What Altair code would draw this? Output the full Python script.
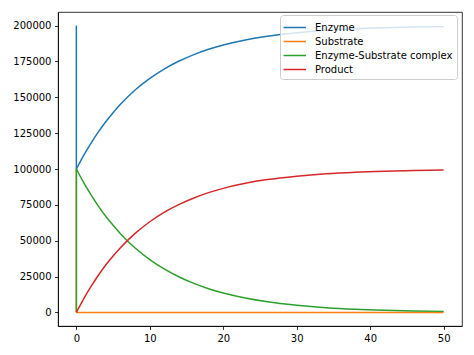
import altair as alt
import pandas as pd

series_names = ["Enzyme", "Substrate", "Enzyme-Substrate complex", "Product"]
series_colors = ["#1f77b4", "#ff7f0e", "#2ca02c", "#d62728"]

# time points of the smooth part (after the instantaneous binding at t=0)
times = [0, 1, 2, 3, 4, 5, 6, 8, 10, 12, 14, 16, 18, 20, 23, 26, 30, 34, 38, 42, 46, 50]
enzyme = [100000, 109500, 118100, 125900, 133000, 139300, 145100, 155100, 163200, 169900,
          175300, 179800, 183500, 186500, 190000, 192600, 195000, 196700, 197800, 198500,
          199000, 199300]
substrate = [0] * len(times)
complex_es = [100000, 90500, 81900, 74100, 67000, 60700, 54900, 44900, 36800, 30100,
              24700, 20200, 16500, 13500, 10000, 7400, 5000, 3300, 2200, 1500, 1000, 700]
product = [0, 9500, 18100, 25900, 33000, 39300, 45100, 55100, 63200, 69900, 75300,
           79800, 83500, 86500, 90000, 92600, 95000, 96700, 97800, 98500, 99000, 99300]

# initial values at t=0 (before the instant jump)
initial = [200000, 100000, 0, 0]

curves = [enzyme, substrate, complex_es, product]

rows = []
for name, vals, init in zip(series_names, curves, initial):
    for t, v in zip(times, vals):
        rows.append({"series": name, "t": t, "v": v, "part": "curve", "o": t + 1})
    rows.append({"series": name, "t": 0, "v": init, "part": "jump", "o": 0})
    rows.append({"series": name, "t": 0, "v": vals[0], "part": "jump", "o": 1})
df = pd.DataFrame(rows)

color = alt.Color(
    "series:N",
    scale=alt.Scale(domain=series_names, range=series_colors),
    legend=alt.Legend(
        title=None,
        orient="none",
        legendX=222,
        legendY=3,
        symbolType="M-1.2,0H1.8",
        symbolSize=225,
        symbolStrokeWidth=1.5,
        labelFont="DejaVu Sans",
        labelFontSize=10,
        labelColor="#000000",
        labelOffset=14,
        rowPadding=0,
        padding=4,
        fillColor="rgba(255,255,255,0.8)",
        strokeColor="#cccccc",
        cornerRadius=3,
    ),
)

x = alt.X("t:Q", scale=alt.Scale(domain=[-2.5, 52.5], nice=False, zero=False),
          axis=alt.Axis(values=[0, 10, 20, 30, 40, 50], title=None, grid=False))
y = alt.Y("v:Q", scale=alt.Scale(domain=[-9500, 209500], nice=False, zero=False),
          axis=alt.Axis(values=list(range(0, 200001, 25000)), title=None, grid=False,
                        format="d"))

base = alt.Chart(df)
layers = []
for name in series_names:
    sub = base.transform_filter(alt.datum.series == name)
    layers.append(
        sub.transform_filter(alt.datum.part == "jump").mark_line(strokeWidth=1.5, interpolate="linear")
        .encode(x=x, y=y, color=color, order="o:Q")
    )
    layers.append(
        sub.transform_filter(alt.datum.part == "curve").mark_line(strokeWidth=1.5, interpolate="monotone")
        .encode(x=x, y=y, color=color, order="o:Q")
    )

chart = alt.layer(*layers).properties(
    width=404, height=314,
    autosize=alt.AutoSizeParams(type="none"),
    padding={"left": 58, "top": 12, "right": 12, "bottom": 29},
).configure_view(
    stroke="#000000", strokeWidth=0.8
).configure_axis(
    domainColor="#000000", domainWidth=0.8,
    tickColor="#000000", tickWidth=0.8, tickSize=3.5,
    labelFont="DejaVu Sans", labelFontSize=10, labelColor="#000000",
    labelPadding=3.5,
)

chart.save("out.html", embed_options={"renderer": "svg", "actions": False})
